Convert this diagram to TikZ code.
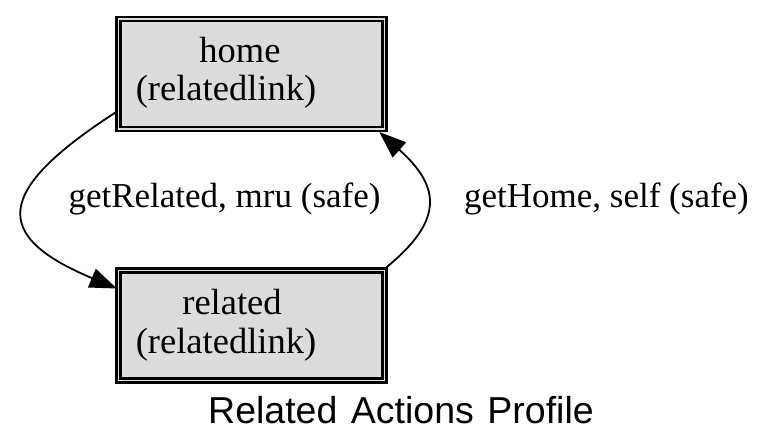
\documentclass[tikz,border=0pt]{standalone}
\usepackage{fontspec}
\setmainfont{Liberation Serif}
\newfontfamily\titlefont[WordSpace=1.3]{Liberation Sans}
\usetikzlibrary{arrows.meta,calc}
\definecolor{boxgray}{HTML}{DCDCDC}
\begin{document}
\begin{tikzpicture}[x=1pt,y=-1pt,
  box/.style={rectangle, draw=black, fill=boxgray, double=boxgray, double distance=1.1pt,
    line width=2.9pt, minimum width=266pt, minimum height=110pt, inner sep=0pt, outer sep=0pt},
  lbl/.style={font=\fontsize{35}{42}\selectfont, anchor=base, inner sep=0pt},
  boxlbl/.style={font=\fontsize{36.5}{42}\selectfont, anchor=base, inner sep=0pt},
  edge/.style={line width=1.8pt, -{Triangle[length=27pt,width=20pt]}}]
\useasboundingbox (0,0) rectangle (766,447);
% boxes
\node[box] (home) at (251.25,74) {};
\node[box] (related) at (251.25,325.5) {};
% box texts
\node[boxlbl] (homeA) at (240,62) {home};
\node[boxlbl] (homeB) at (226,100) {(relatedlink)};
\node[boxlbl] (relA) at (232,314) {related};
\node[boxlbl] (relB) at (226,353) {(relatedlink)};
% edges
\draw[edge] ($(home.south west)+(-2,-17)$) .. controls +(-124,80) and +(-124,-52) .. ($(related.north west)+(-1.5,18)$);
\draw[edge] ($(related.north east)+(2,-3)$) .. controls +(56,-46) and +(63,56) .. ($(home.south east)+(-5,3)$);
% edge labels
\node[lbl] (l1) at (224.5,207) {getRelated, mru (safe)};
\node[lbl] (l2) at (606.5,207) {getHome, self (safe)};
% title
\node[anchor=base, inner sep=0pt, font=\titlefont\fontsize{37.5}{42}\selectfont] (title) at (401,423) {Related Actions Profile};
\end{tikzpicture}
\end{document}
